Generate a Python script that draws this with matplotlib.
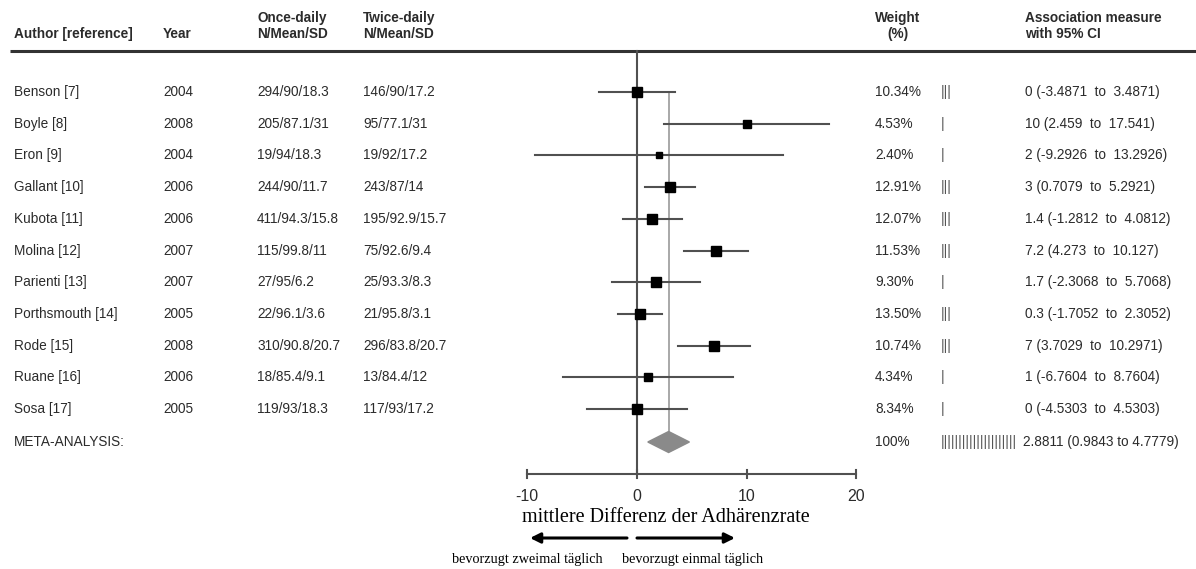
import matplotlib
matplotlib.use("Agg")
import matplotlib.pyplot as plt
from matplotlib.patches import Polygon

# ---------------- data ----------------
authors = ["Benson [7]", "Boyle [8]", "Eron [9]", "Gallant [10]", "Kubota [11]",
           "Molina [12]", "Parienti [13]", "Porthsmouth [14]", "Rode [15]",
           "Ruane [16]", "Sosa [17]"]
years = ["2004", "2008", "2004", "2006", "2006", "2007", "2007", "2005", "2008", "2006", "2005"]
once_daily = ["294/90/18.3", "205/87.1/31", "19/94/18.3", "244/90/11.7", "411/94.3/15.8",
              "115/99.8/11", "27/95/6.2", "22/96.1/3.6", "310/90.8/20.7", "18/85.4/9.1",
              "119/93/18.3"]
twice_daily = ["146/90/17.2", "95/77.1/31", "19/92/17.2", "243/87/14", "195/92.9/15.7",
               "75/92.6/9.4", "25/93.3/8.3", "21/95.8/3.1", "296/83.8/20.7", "13/84.4/12",
               "117/93/17.2"]
weights = [10.34, 4.53, 2.40, 12.91, 12.07, 11.53, 9.30, 13.50, 10.74, 4.34, 8.34]
effect = [0, 10, 2, 3, 1.4, 7.2, 1.7, 0.3, 7, 1, 0]
ci_low = [-3.4871, 2.459, -9.2926, 0.7079, -1.2812, 4.273, -2.3068, -1.7052, 3.7029, -6.7604, -4.5303]
ci_high = [3.4871, 17.541, 13.2926, 5.2921, 4.0812, 10.127, 5.7068, 2.3052, 10.2971, 8.7604, 4.5303]
meta_effect, meta_low, meta_high = 2.8811, 0.9843, 4.7779
xticks = [-10, 0, 10, 20]
xlabel = "mittlere Differenz der Adhärenzrate"
left_label = "bevorzugt zweimal täglich"
right_label = "bevorzugt einmal täglich"

# ---------------- layout ----------------
W, H = 1196, 569
fig = plt.figure(figsize=(W / 100, H / 100), dpi=100)
ax = fig.add_axes([0, 0, 1, 1])
ax.axis("off")

X0 = 637.0        # pixel of value 0
PXU = 10.97       # pixels per unit
ROW0 = 92.0       # pixel of first row
ROWH = 31.7       # row height
ax.set_xlim(-X0 / PXU, (W - X0) / PXU)
ax.set_ylim((H - ROW0) / ROWH, -ROW0 / ROWH)


def px(x):
    return (x - X0) / PXU


def py(y):
    return (y - ROW0) / ROWH


SANS = "Liberation Sans"
SERIF = "Liberation Serif"
TXT = "#2b2b2b"
LINE = "#505050"
FS = 9.8

# header
hdr = dict(fontfamily=SANS, fontsize=FS, fontweight="bold", color=TXT, va="center")
ax.text(px(14), py(34), "Author [reference]", ha="left", **hdr)
ax.text(px(163), py(34), "Year", ha="left", **hdr)
ax.text(px(257), py(26), "Once-daily\nN/Mean/SD", ha="left", linespacing=1.2, **hdr)
ax.text(px(363), py(26), "Twice-daily\nN/Mean/SD", ha="left", linespacing=1.2, **hdr)
ax.text(px(898), py(26), "Weight\n(%)", ha="center", linespacing=1.2, multialignment="center", **hdr)
ax.text(px(1025), py(26), "Association measure\nwith 95% CI", ha="left", linespacing=1.2, **hdr)
ax.plot([px(10), px(W)], [py(51), py(51)], color="#333333", lw=2.2, solid_capstyle="butt")

body = dict(fontfamily=SANS, fontsize=FS, color=TXT, va="center")
n = len(authors)
rows = list(range(n))
meta_row = py(442)
axis_row = py(474)

for i in rows:
    ax.text(px(14), i, authors[i], ha="left", **body)
    ax.text(px(163), i, years[i], ha="left", **body)
    ax.text(px(257), i, once_daily[i], ha="left", **body)
    ax.text(px(363), i, twice_daily[i], ha="left", **body)
    ax.text(px(875), i, f"{weights[i]:.2f}%", ha="left", **body)
    ax.text(px(941), i, "|||" if weights[i] >= 10 else "|", ha="left",
            fontfamily=SANS, fontsize=FS, color="#555555", va="center")
    ax.text(px(1025), i, f"{effect[i]:g} ({ci_low[i]:g}  to  {ci_high[i]:g})", ha="left", **body)

ax.text(px(14), meta_row, "META-ANALYSIS:", ha="left", **body)
ax.text(px(875), meta_row, "100%", ha="left", **body)
ax.text(px(941), meta_row, "|" * 21, ha="left", fontfamily=SANS, fontsize=FS,
        color="#555555", va="center")
ax.text(px(1023), meta_row, f"{meta_effect:g} ({meta_low:g} to {meta_high:g})", ha="left", **body)

# forest plot
ax.plot([0, 0], [py(51), axis_row], color=LINE, lw=1.5, zorder=2)
dh = 10.5 / ROWH
ax.plot([meta_effect, meta_effect], [0, meta_row - dh], color="#9a9a9a", lw=1.2, zorder=1)
for i in rows:
    ax.plot([ci_low[i], ci_high[i]], [i, i], color=LINE, lw=1.5, zorder=3)
    size_px = min(9.5, 3.5 + weights[i])
    ax.plot(effect[i], i, marker="s", color="black", markersize=size_px * 0.72,
            linestyle="none", zorder=4)

ax.add_patch(Polygon([(meta_low, meta_row), (meta_effect, meta_row - dh),
                      (meta_high, meta_row), (meta_effect, meta_row + dh)],
                     closed=True, facecolor="#8a8a8a", edgecolor="#8a8a8a", zorder=3))

# axis
ax.plot([xticks[0], xticks[-1]], [axis_row, axis_row], color=LINE, lw=1.5)
tk = 4 / ROWH
for t in xticks:
    ax.plot([t, t], [axis_row - tk, axis_row + tk], color=LINE, lw=1.5)
    ax.text(t, py(496), str(t), ha="center", va="center", fontfamily=SANS,
            fontsize=11.5, color=TXT)

ax.text(px(666), py(517), xlabel, ha="center", va="center", fontfamily=SERIF,
        fontsize=14.5, color="black")

arrow = dict(arrowstyle="-|>", color="black", lw=2.2, mutation_scale=15,
             shrinkA=0, shrinkB=0)
ax.annotate("", xy=(px(530), py(538)), xytext=(px(627), py(538)), arrowprops=arrow)
ax.annotate("", xy=(px(735), py(538)), xytext=(px(637), py(538)), arrowprops=arrow)

ax.text(px(603), py(560), left_label, ha="right", va="center", fontfamily=SERIF,
        fontsize=10.3, color="black")
ax.text(px(622), py(560), right_label, ha="left", va="center", fontfamily=SERIF,
        fontsize=10.3, color="black")

fig.savefig("out.png", dpi=100, facecolor="white")
